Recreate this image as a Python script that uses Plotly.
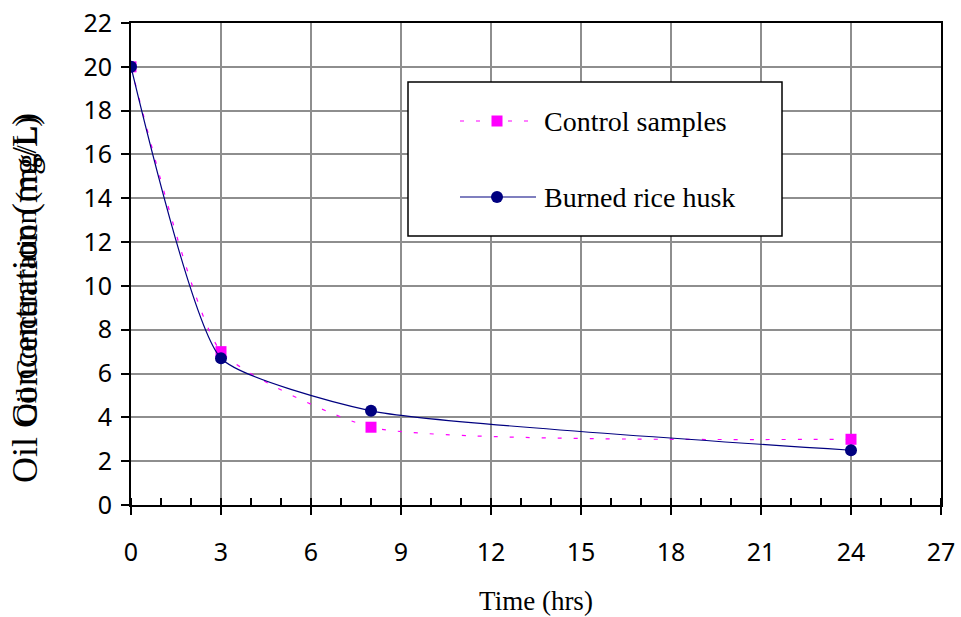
import plotly.graph_objects as go

# Oil concentration over time for the two treatments
time_hrs = [0, 3, 8, 24]
control_samples = [20.0, 7.0, 3.55, 3.0]
burned_rice_husk = [20.0, 6.7, 4.3, 2.5]

x_ticks = [0, 3, 6, 9, 12, 15, 18, 21, 24, 27]
y_ticks = [0, 2, 4, 6, 8, 10, 12, 14, 16, 18, 20, 22]

W, H = 961, 617
M_L, M_R, M_T, M_B = 131, 20, 23, 112
PW, PH = W - M_L - M_R, H - M_T - M_B

SERIF = "Liberation Serif, Times New Roman, serif"
SANS = "Noto Sans, DejaVu Sans, sans-serif"
MAGENTA = "#FF00FF"
NAVY = "#000080"
SMOOTH = 0.5


def px(xpix):
    """Horizontal pixel position -> paper fraction."""
    return (xpix - M_L) / PW


def py(ypix):
    """Vertical pixel position -> paper fraction."""
    return (H - M_B - ypix) / PH


fig = go.Figure()

fig.add_trace(go.Scatter(
    x=time_hrs, y=control_samples, name="Control samples",
    mode="lines+markers",
    line=dict(color=MAGENTA, width=1.2, dash="4px,12px", shape="spline", smoothing=SMOOTH),
    marker=dict(symbol="square", size=11, color=MAGENTA),
    showlegend=False,
))
fig.add_trace(go.Scatter(
    x=time_hrs, y=burned_rice_husk, name="Burned rice husk",
    mode="lines+markers",
    line=dict(color=NAVY, width=1.2, shape="spline", smoothing=SMOOTH),
    marker=dict(symbol="circle", size=12, color=NAVY),
    showlegend=False,
))

grid = "#8e8e8e"
fig.update_xaxes(
    range=[0, 27], tickvals=x_ticks, ticktext=[str(v) for v in x_ticks],
    showgrid=True, gridcolor=grid, gridwidth=2,
    showline=True, linecolor="black", linewidth=2, mirror=True,
    ticks="outside", ticklen=8, tickwidth=1.5, tickcolor="black",
    minor=dict(dtick=1, tick0=0, ticks="inside", ticklen=7, tickwidth=1.5,
               tickcolor="black", showgrid=False),
    ticklabelstandoff=16,
    tickfont=dict(family=SANS, size=25, color="black"),
    zeroline=False, automargin=False,
    title=dict(text="Time (hrs)", font=dict(family=SERIF, size=27, color="black"), standoff=24),
)
fig.update_yaxes(
    range=[0, 22], tickvals=y_ticks, ticktext=[str(v) for v in y_ticks],
    showgrid=True, gridcolor=grid, gridwidth=2,
    showline=True, linecolor="black", linewidth=2, mirror=True,
    ticks="outside", ticklen=8, tickwidth=1.5, tickcolor="black",
    ticklabelstandoff=4,
    tickfont=dict(family=SANS, size=25, color="black"),
    zeroline=False, automargin=False,
)

# Y-axis caption (two overlapping copies of the label)
fig.add_annotation(
    text="Oil Concentration (mg/L)", textangle=-90, showarrow=False,
    xref="paper", yref="paper", x=px(25), y=py(298),
    xanchor="center", yanchor="middle",
    font=dict(family=SERIF, size=36, color="black"),
)
fig.add_annotation(
    text="Oil Concentration (mg/L)", textangle=-90, showarrow=False,
    xref="paper", yref="paper", x=px(26), y=py(271),
    xanchor="center", yanchor="middle",
    font=dict(family=SERIF, size=30, color="black"),
)

# Legend box drawn by hand
shapes = [
    dict(type="rect", xref="paper", yref="paper",
         x0=px(408), x1=px(782), y0=py(236), y1=py(82),
         fillcolor="white", line=dict(color="black", width=1.5), layer="above"),
    dict(type="line", xref="paper", yref="paper",
         x0=px(460), x1=px(536), y0=py(121), y1=py(121),
         line=dict(color=MAGENTA, width=1.2, dash="4px,12px"), layer="above"),
    dict(type="line", xref="paper", yref="paper",
         x0=px(460), x1=px(536), y0=py(197), y1=py(197),
         line=dict(color=NAVY, width=1.2), layer="above"),
    dict(type="rect", xref="paper", yref="paper",
         xsizemode="pixel", ysizemode="pixel",
         xanchor=px(497), yanchor=py(121), x0=-5.5, x1=5.5, y0=-5.5, y1=5.5,
         fillcolor=MAGENTA, line=dict(width=0), layer="above"),
    dict(type="circle", xref="paper", yref="paper",
         xsizemode="pixel", ysizemode="pixel",
         xanchor=px(497), yanchor=py(197), x0=-6, x1=6, y0=-6, y1=6,
         fillcolor=NAVY, line=dict(width=0), layer="above"),
]
for label, ypix in [("Control samples", 121), ("Burned rice husk", 197)]:
    fig.add_annotation(
        text=label, showarrow=False, xref="paper", yref="paper",
        x=px(542), y=py(ypix), xanchor="left", yanchor="middle",
        font=dict(family=SERIF, size=28, color="black"),
    )

fig.update_layout(
    width=W, height=H,
    margin=dict(l=M_L, r=M_R, t=M_T, b=M_B, autoexpand=False),
    paper_bgcolor="white", plot_bgcolor="white",
    shapes=shapes,
)

fig.write_html("out.html")
